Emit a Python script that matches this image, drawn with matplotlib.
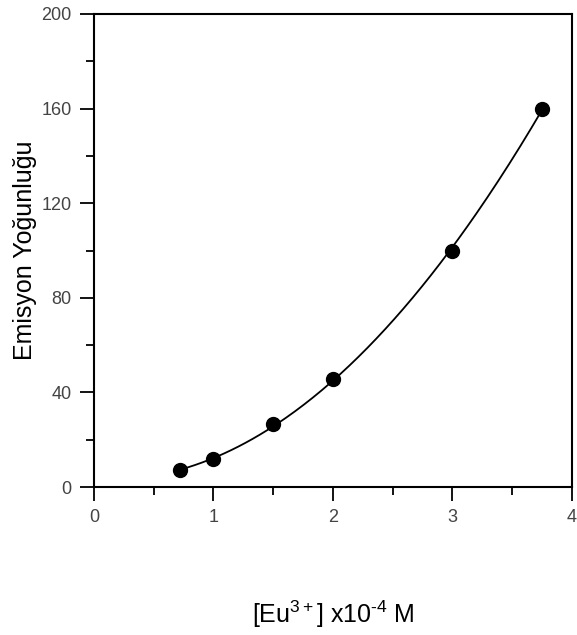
import numpy as np
import matplotlib
matplotlib.use("Agg")
import matplotlib.pyplot as plt
from matplotlib.ticker import MultipleLocator

conc = [0.72, 1.0, 1.5, 2.0, 3.0, 3.75]
intensity = [7, 12, 26.5, 45.5, 100, 160]
xticks = [0, 1, 2, 3, 4]
yticks = [0, 40, 80, 120, 160, 200]

plt.rcParams['font.family'] = ['Liberation Sans', 'DejaVu Sans']
plt.rcParams['mathtext.fontset'] = 'custom'
plt.rcParams['mathtext.rm'] = 'Liberation Sans'
plt.rcParams['mathtext.it'] = 'Liberation Sans'
plt.rcParams['mathtext.default'] = 'regular'

fig = plt.figure(figsize=(5.77, 6.35), dpi=100)
ax = fig.add_axes([0.163, 0.233, 0.828, 0.745])

coef = np.polyfit(conc, intensity, 2)
xs = np.linspace(min(conc), max(conc), 200)
ax.plot(xs, np.polyval(coef, xs), color='black', lw=1.3)
ax.plot(conc, intensity, 'o', color='black', ms=10)

ax.set_xlim(0, 4)
ax.set_ylim(0, 200)
ax.set_xticks(xticks)
ax.set_yticks(yticks)
ax.xaxis.set_minor_locator(MultipleLocator(0.5))
ax.yaxis.set_minor_locator(MultipleLocator(20))
ax.tick_params(which='major', direction='out', length=10, width=1.3, labelsize=13, labelcolor='#444444', pad=6)
ax.tick_params(which='minor', direction='out', length=6, width=1.3)
for s in ax.spines.values():
    s.set_linewidth(1.5)

ax.set_xlabel('[Eu$^{3+}$] x10$^{\\text{-}4}$ M', fontsize=18, labelpad=52)
ax.set_ylabel('Emisyon Yoğunluğu', fontsize=18, labelpad=3)

fig.savefig('out.png', dpi=100)
